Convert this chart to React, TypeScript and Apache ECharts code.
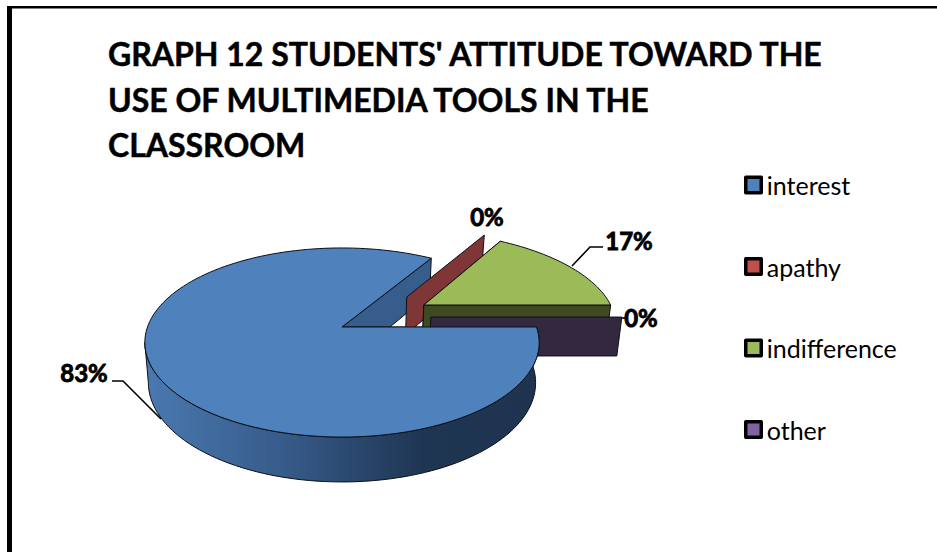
import React, { useEffect, useRef } from "react";
import * as echarts from "echarts";

// Survey shares, in percent
const categories = ["interest", "apathy", "indifference", "other"];
const shares = [83, 0, 17, 0];

const titleText =
  "GRAPH 12 STUDENTS' ATTITUDE TOWARD THE\nUSE OF MULTIMEDIA TOOLS IN THE\nCLASSROOM";

const topColors = ["#4F81BD", "#C0504D", "#9BBB59", "#8064A2"];
const wallColors = ["#375D8C", "#7F3636", "#3F4A22", "#332840"];

// Painter's layers: the cut walls stack from back to front, and the large
// wedge's rim and top go over everything
const wallLayer = [0, 1, 2, 3];
const faceLayer = [4, 1, 2, 3];
const LABEL_LAYER = 5;

// How far each wedge is pulled out of the pie, in radii (right, towards viewer)
const explode: [number, number][] = [
  [0.005, 0],
  [0.357, -0.344],
  [0.443, -0.249],
  [0.47, -0.11],
];

// Label centres and leader lines
const labelAt: [number, number][] = [
  [84, 372],
  [487, 216],
  [629, 240],
  [641, 317],
];
const leaders: [number, number][][] = [
  [[112, 381], [123, 381], [161, 419]],
  [],
  [[603, 247], [590, 247], [572, 266]],
  [[622, 318], [625, 318]],
];

const FONT = "Lato, Carlito, Calibri, sans-serif";
const INK = "#0c1016";

// Perspective projection of the pie's top and bottom planes
const PERSPECTIVE = 0.164;
const CENTER_X = 341;
const TOP_PLANE = { cy: 327, rx: 194.5, ry: 92 };
const BOTTOM_PLANE = { cy: 366.4, rx: 191, ry: 96.6 };
// Rim points slide along the circle a little on the far side of the pie
const FORESHORTEN = 3.2;
type Plane = typeof TOP_PLANE;

const rad = (deg: number) => (deg * Math.PI) / 180;

// deg runs clockwise from twelve o'clock; r is 0 at the wedge apex, 1 on the rim
function project(plane: Plane, deg: number, r: number, off: [number, number]) {
  const shown = deg + FORESHORTEN * Math.cos(rad(deg));
  const x = r * Math.sin(rad(shown)) + off[0];
  const z = -r * Math.cos(rad(shown)) + off[1];
  const s = 1 / (1 - PERSPECTIVE * z);
  return [CENTER_X + plane.rx * x * s, plane.cy + plane.ry * z * s];
}

function arc(plane: Plane, from: number, to: number, off: [number, number]) {
  const n = Math.max(2, Math.ceil(Math.abs(to - from) / 2));
  const pts: number[][] = [];
  for (let i = 0; i <= n; i++) {
    pts.push(project(plane, from + ((to - from) * i) / n, 1, off));
  }
  return pts;
}

// Wedge angles follow from the shares, starting at three o'clock
function wedgeAngles() {
  const total = shares.reduce((a, b) => a + b, 0);
  let at = 90;
  return shares.map((v) => {
    const start = at;
    at += (v / total) * 360;
    return [start, at];
  });
}

function wedgeChildren(i: number) {
  const [start, end] = wedgeAngles()[i];
  const off = explode[i];
  const children: any[] = [];
  const edge = { stroke: INK, lineWidth: 1, lineJoin: "round" };

  const wall = (deg: number) => ({
    type: "polygon",
    z2: wallLayer[i],
    shape: {
      points: [
        project(TOP_PLANE, deg, 0, off),
        project(TOP_PLANE, deg, 1, off),
        project(BOTTOM_PLANE, deg, 1, off),
        project(BOTTOM_PLANE, deg, 0, off),
      ],
    },
    style: { fill: wallColors[i], ...edge },
  });

  if (end === start) {
    children.push(wall(start));
  } else {
    // The wall at the smaller clock angle faces away, so it is painted first
    [start % 360, end % 360].sort((a, b) => a - b).forEach((deg) => children.push(wall(deg)));
    // Rim surface, only where it faces the viewer
    const from = Math.max(start, 90);
    const to = Math.min(end, 261);
    if (to > from) {
      children.push({
        type: "polygon",
        z2: faceLayer[i],
        shape: {
          points: [
            ...arc(TOP_PLANE, from, to, off),
            ...arc(BOTTOM_PLANE, to, from, off),
          ],
        },
        style: {
          fill: new echarts.graphic.LinearGradient(1, 0, 0, 0, [
            { offset: 0, color: "#1E3350" },
            { offset: 0.3, color: "#1F3653" },
            { offset: 0.65, color: "#375B8A" },
            { offset: 1, color: "#4A79B0" },
          ]),
          ...edge,
        },
      });
    }
    children.push({
      type: "polygon",
      z2: faceLayer[i],
      shape: {
        points: [project(TOP_PLANE, start, 0, off), ...arc(TOP_PLANE, start, end, off)],
      },
      style: { fill: topColors[i], ...edge },
    });
  }

  if (leaders[i].length) {
    children.push({
      type: "polyline",
      z2: LABEL_LAYER,
      shape: { points: leaders[i] },
      style: { stroke: "#000", lineWidth: 1.6, fill: "none" },
    });
  }
  children.push({
    type: "text",
    z2: LABEL_LAYER,
    x: labelAt[i][0],
    y: labelAt[i][1],
    style: {
      text: `${shares[i]}%`,
      fontFamily: FONT,
      fontWeight: "bold",
      fontSize: 24,
      fill: "#000",
      stroke: "#000",
      lineWidth: 0.9,
      align: "center",
      verticalAlign: "middle",
    },
  });
  return children;
}

export default function App() {
  const host = useRef<HTMLDivElement>(null);

  useEffect(() => {
    const chart = echarts.init(host.current!, null, { renderer: "svg" });
    chart.setOption({
      animation: false,
      backgroundColor: "#ffffff",
      title: {
        text: titleText,
        left: 108,
        top: 31,
        padding: 0,
        textStyle: {
          fontFamily: FONT,
          fontWeight: "bold",
          fontSize: 32,
          lineHeight: 45.5,
          color: "#000",
          textBorderColor: "#000",
          textBorderWidth: 0.5,
        },
      },
      legend: {
        data: categories,
        orient: "vertical",
        left: 744,
        top: 171,
        padding: 0,
        itemWidth: 15.5,
        itemHeight: 15.5,
        itemGap: 53.5,
        icon: "rect",
        selectedMode: false,
        itemStyle: { borderColor: "#000", borderWidth: 3.5, borderJoin: "round" },
        textStyle: {
          fontFamily: FONT,
          fontSize: 25,
          lineHeight: 24,
          color: "#000",
          padding: [0, 0, 4, 0.5],
        },
      },
      graphic: [
        { type: "rect", shape: { x: 7, y: 6, width: 930, height: 2.5 }, style: { fill: "#000" } },
        { type: "rect", shape: { x: 7, y: 6, width: 5, height: 546 }, style: { fill: "#000" } },
      ],
      series: categories.map((name, i) => ({
        type: "custom",
        name,
        coordinateSystem: "none",
        silent: true,
        itemStyle: { color: topColors[i] },
        data: [[shares[i]]],
        renderItem: () => ({ type: "group", children: wedgeChildren(i) }),
      })),
    });
    return () => chart.dispose();
  }, []);

  return (
    <div
      ref={host}
      style={{ position: "absolute", left: 0, top: 0, width: 937, height: 552 }}
    />
  );
}
